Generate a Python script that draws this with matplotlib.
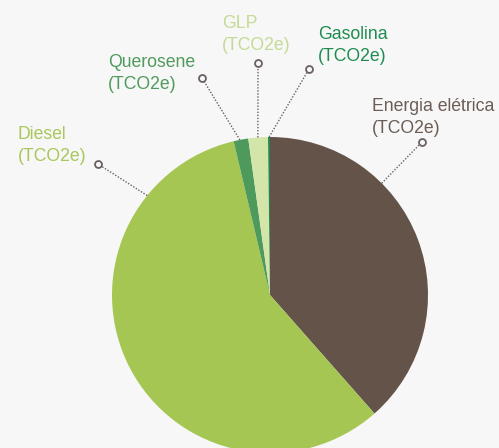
import numpy as np
import matplotlib.pyplot as plt

plt.rcParams['font.family'] = ['Liberation Sans', 'DejaVu Sans']

# data (shares of emissions, %), clockwise from the top
labels = ['Energia elétrica', 'Diesel', 'Querosene', 'GLP', 'Gasolina']
values = [38.5, 57.8, 1.5, 2.0, 0.2]
colors = ['#635349', '#a6c653', '#4e9a5c', '#d3e5a8', '#1f8a4e']
text_colors = ['#6b5d55', '#a8c75a', '#4f9a5c', '#c3db95', '#1e8c4f']
unit = '(TCO2e)'

W, H = 499, 448
fig = plt.figure(figsize=(W / 100, H / 100), dpi=100)
fig.patch.set_facecolor('#f7f7f7')
ax = fig.add_axes([0, 0, 1, 1])
ax.set_facecolor('#f7f7f7')

cx, cy, r = 270, H - 295, 158
ax.pie(values, colors=colors, startangle=90, counterclock=False,
       center=(cx, cy), radius=r, wedgeprops=dict(linewidth=0))
ax.set_xlim(0, W)
ax.set_ylim(0, H)
ax.set_aspect('equal')
ax.axis('off')

# label layout: text x, first baseline (px from top), leader angle on pie, marker position
layout = {
    'Energia elétrica': (372, 111, 45, (422, 142)),
    'Diesel': (18, 139, 141, (98, 164)),
    'Querosene': (108, 67, 101, (202, 78)),
    'GLP': (222, 28, 94.4, (258, 63)),
    'Gasolina': (318, 39, 90.3, (309, 69)),
}

for name, tc in zip(labels, text_colors):
    tx, base, ang, (mx, my) = layout[name]
    ax.text(tx, H - base, name, color=tc, fontsize=12.7, va='baseline', ha='left')
    ax.text(tx, H - base - 22, unit, color=tc, fontsize=12.7, va='baseline', ha='left')
    a = np.deg2rad(ang)
    px, py = cx + r * np.cos(a), cy + r * np.sin(a)
    ax.plot([px, mx], [py, H - my], linestyle=(0, (1, 1.2)), color='#6b6060', lw=1.0)
    ax.plot(mx, H - my, 'o', ms=5, mfc='#f7f7f7', mec='#6b6060', mew=1.3)

fig.savefig('out.png', dpi=100, facecolor=fig.get_facecolor())
